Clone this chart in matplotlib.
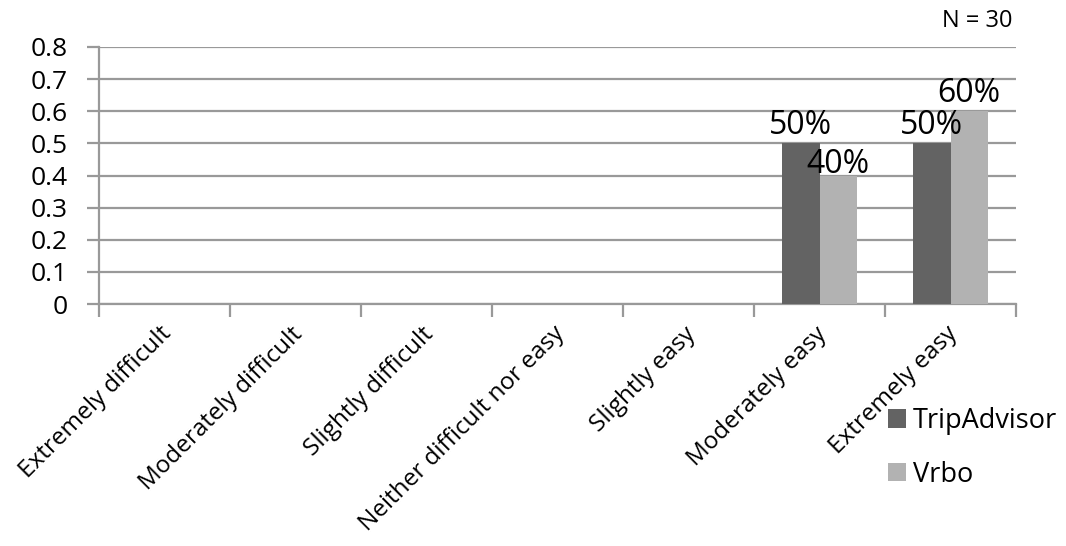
import matplotlib
matplotlib.use("Agg")
import matplotlib.pyplot as plt
import matplotlib.transforms as mtransforms
import numpy as np
from matplotlib.ticker import FixedLocator

plt.rcParams['font.family'] = ['Open Sans', 'DejaVu Sans']

categories = ["Extremely difficult", "Moderately difficult", "Slightly difficult",
              "Neither difficult nor easy", "Slightly easy", "Moderately easy", "Extremely easy"]
tripadvisor = [0, 0, 0, 0, 0, 0.5, 0.5]
vrbo = [0, 0, 0, 0, 0, 0.4, 0.6]
series_names = ["TripAdvisor", "Vrbo"]
yticks = [0, 0.1, 0.2, 0.3, 0.4, 0.5, 0.6, 0.7, 0.8]

dark = "#636363"
light = "#B2B2B2"
grid = "#999999"

fig = plt.figure(figsize=(10.66, 5.46), dpi=100)
ax = fig.add_axes([99/1066, 1-304/546, (1016-99)/1066, (304-47)/546])

x = np.arange(len(categories))
w = 0.283
b1 = ax.bar(x - w/2, tripadvisor, w, color=dark, label=series_names[0], zorder=3)
b2 = ax.bar(x + w/2, vrbo, w, color=light, label=series_names[1], zorder=3)

for bars, vals in ((b1, tripadvisor), (b2, vrbo)):
    for r, v in zip(bars, vals):
        if v > 0:
            # label squeezed closer to the shorter bar beside the taller one, as in the source
            lift = -4 if (bars is b2 and v < 0.5) else 1
            ax.annotate(f"{v:.0%}", (r.get_x() + r.get_width()/2, v), xytext=(0, lift),
                        textcoords='offset points', ha='center', va='bottom',
                        fontsize=23, color='black', zorder=4)

ax.set_xlim(-0.5, len(categories) - 0.5)
ax.set_ylim(0, 0.8)
ax.set_yticks(yticks)
ax.set_yticklabels([("0" if t == 0 else f"{t:.1f}") for t in yticks], fontsize=19)
ax.yaxis.grid(True, color=grid, linewidth=1.6, zorder=0)
ax.set_axisbelow(True)

ax.set_xticks(x)
ax.set_xticklabels(categories, rotation=45, ha='right', va='top', rotation_mode='anchor', fontsize=17.5)
ax.tick_params(axis='x', which='major', length=0, pad=0)
offset = mtransforms.ScaledTranslation(-0.05, -0.18, fig.dpi_scale_trans)
for lab in ax.get_xticklabels():
    lab.set_transform(lab.get_transform() + offset)
ax.xaxis.set_minor_locator(FixedLocator(np.arange(-0.5, len(categories), 1.0)))
ax.tick_params(axis='x', which='minor', length=9, width=1.6, color=grid, direction='out')
ax.tick_params(axis='y', length=9, width=1.6, color=grid, direction='out', pad=13.5)

for s in ('top', 'right'):
    ax.spines[s].set_visible(False)
for s in ('left', 'bottom'):
    ax.spines[s].set_color(grid)
    ax.spines[s].set_linewidth(1.6)

fig.text(1013/1066, 1-21/546, "N = 30", ha='right', va='center', fontsize=17)

leg = fig.legend(handles=[b1, b2], labels=series_names, loc='upper left',
                 bbox_to_anchor=(888/1066, 1-407/546), frameon=False, fontsize=19.5,
                 handlelength=0.66, handleheight=0.66, handletextpad=0.25, labelspacing=0.95,
                 borderaxespad=0, borderpad=0)

fig.savefig("out.png", dpi=100)
